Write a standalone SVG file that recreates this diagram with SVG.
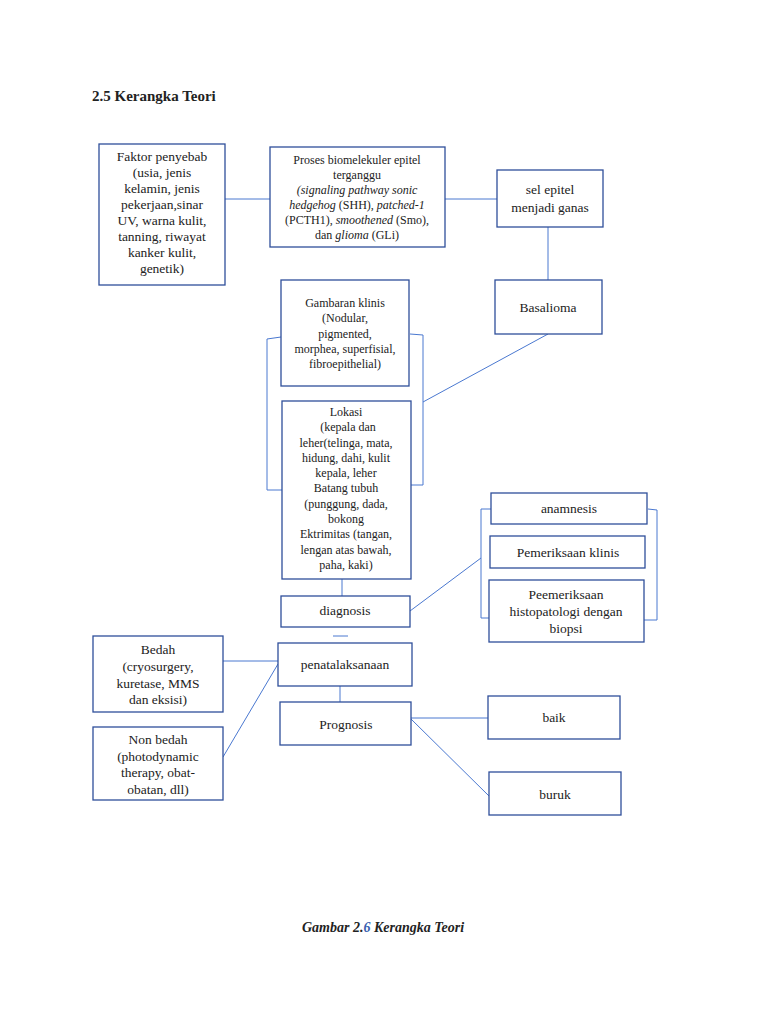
<svg xmlns="http://www.w3.org/2000/svg" width="768" height="1024" viewBox="0 0 768 1024">
<style>
.b{fill:#fff;stroke:#2f4f9a;stroke-width:1.3}
.c{fill:none;stroke:#4a78d0;stroke-width:1}
text{font-family:"Liberation Serif",serif;fill:#222;text-anchor:middle}
.t{font-size:13.5px}.s{font-size:12px}
</style>
<rect width="768" height="1024" fill="#fff"/>
<text x="92" y="101" style="font-size:15px;font-weight:bold;text-anchor:start">2.5 Kerangka Teori</text>
<g id="connectors">
<line class="c" x1="225" y1="199" x2="270" y2="199"/>
<line class="c" x1="445" y1="199" x2="497" y2="199"/>
<line class="c" x1="548" y1="227" x2="548" y2="280"/>
<polyline class="c" points="281,337 267,339 267,490 282,490"/>
<polyline class="c" points="410,334 423,335 423,485 411,485"/>
<line class="c" x1="548" y1="334" x2="423" y2="402"/>
<line class="c" x1="342" y1="579" x2="342" y2="596"/>
<line class="c" x1="333" y1="636" x2="348" y2="636"/>
<polyline class="c" points="491,509 481,509 481,618 489,618"/>
<polyline class="c" points="648,509 657,510 657,620 644,620"/>
<line class="c" x1="410" y1="611" x2="481" y2="558"/>
<line class="c" x1="223" y1="661" x2="278" y2="661"/>
<line class="c" x1="223" y1="757" x2="278" y2="664"/>
<line class="c" x1="340" y1="686" x2="340" y2="702"/>
<line class="c" x1="411" y1="718" x2="488" y2="718"/>
<line class="c" x1="411" y1="719" x2="489" y2="796"/>
</g>
<g id="faktor"><rect class="b" x="99" y="144" width="126" height="141"/>
<text class="t"><tspan x="162" y="161">Faktor penyebab</tspan><tspan x="162" y="177">(usia, jenis</tspan><tspan x="162" y="193">kelamin, jenis</tspan><tspan x="162" y="209">pekerjaan,sinar</tspan><tspan x="162" y="225">UV, warna kulit,</tspan><tspan x="162" y="241">tanning, riwayat</tspan><tspan x="162" y="257">kanker kulit,</tspan><tspan x="162" y="273">genetik)</tspan></text></g>
<g id="proses"><rect class="b" x="270" y="147" width="175" height="100"/>
<text class="s"><tspan x="357" y="164">Proses biomelekuler epitel</tspan><tspan x="357" y="179">terganggu</tspan><tspan x="357" y="194" font-style="italic">(signaling pathway sonic</tspan><tspan x="357" y="209"><tspan font-style="italic">hedgehog</tspan> (SHH), <tspan font-style="italic">patched-1</tspan></tspan><tspan x="357" y="224">(PCTH1), <tspan font-style="italic">smoothened</tspan> (Smo),</tspan><tspan x="357" y="239">dan <tspan font-style="italic">glioma</tspan> (GLi)</tspan></text></g>
<g id="sel"><rect class="b" x="497" y="170" width="106" height="57"/>
<text class="t"><tspan x="550" y="194">sel epitel</tspan><tspan x="550" y="212">menjadi ganas</tspan></text></g>
<g id="basalioma"><rect class="b" x="495" y="280" width="107" height="54"/><text class="t" x="548" y="312">Basalioma</text></g>
<g id="gambaran"><rect class="b" x="281" y="280" width="128" height="106"/>
<text class="s"><tspan x="345" y="307">Gambaran klinis</tspan><tspan x="345" y="322">(Nodular,</tspan><tspan x="345" y="338">pigmented,</tspan><tspan x="345" y="353">morphea, superfisial,</tspan><tspan x="345" y="368">fibroepithelial)</tspan></text></g>
<g id="lokasi"><rect class="b" x="282" y="401" width="129" height="178"/>
<text class="s"><tspan x="346" y="416">Lokasi</tspan><tspan x="348" y="431">(kepala dan</tspan><tspan x="346" y="447">leher(telinga, mata,</tspan><tspan x="346" y="462">hidung, dahi, kulit</tspan><tspan x="346" y="477">kepala, leher</tspan><tspan x="346" y="492">Batang tubuh</tspan><tspan x="346" y="508">(punggung, dada,</tspan><tspan x="346" y="523">bokong</tspan><tspan x="346" y="538">Ektrimitas (tangan,</tspan><tspan x="346" y="554">lengan atas bawah,</tspan><tspan x="346" y="569">paha, kaki)</tspan></text></g>
<g id="diagnosis"><rect class="b" x="281" y="596" width="129" height="31"/><text class="t" x="345" y="615">diagnosis</text></g>
<g id="anamnesis"><rect class="b" x="491" y="493" width="156" height="31"/><text class="t" x="569" y="513">anamnesis</text></g>
<g id="klinis"><rect class="b" x="490" y="536" width="155" height="32"/><text class="t" x="568" y="557">Pemeriksaan klinis</text></g>
<g id="histo"><rect class="b" x="489" y="580" width="155" height="62"/>
<text class="t"><tspan x="566" y="599">Peemeriksaan</tspan><tspan x="566" y="616">histopatologi dengan</tspan><tspan x="566" y="633">biopsi</tspan></text></g>
<g id="bedah"><rect class="b" x="93" y="636" width="130" height="76"/>
<text class="t"><tspan x="158" y="654">Bedah</tspan><tspan x="158" y="671">(cryosurgery,</tspan><tspan x="158" y="688">kuretase, MMS</tspan><tspan x="158" y="704">dan eksisi)</tspan></text></g>
<g id="penatalaksanaan"><rect class="b" x="278" y="643" width="134" height="43"/><text class="t" x="345" y="669">penatalaksanaan</text></g>
<g id="nonbedah"><rect class="b" x="93" y="727" width="130" height="73"/>
<text class="t"><tspan x="158" y="744">Non bedah</tspan><tspan x="158" y="761">(photodynamic</tspan><tspan x="158" y="777">therapy, obat-</tspan><tspan x="158" y="794">obatan, dll)</tspan></text></g>
<g id="prognosis"><rect class="b" x="280" y="702" width="131" height="43"/><text class="t" x="346" y="729">Prognosis</text></g>
<g id="baik"><rect class="b" x="488" y="696" width="132" height="43"/><text class="t" x="554" y="722">baik</text></g>
<g id="buruk"><rect class="b" x="489" y="772" width="132" height="43"/><text class="t" x="555" y="799">buruk</text></g>
<text x="383" y="932" style="font-size:14px;font-weight:bold;font-style:italic">Gambar 2.<tspan fill="#3a5fb0">6</tspan> Kerangka Teori</text>
</svg>
